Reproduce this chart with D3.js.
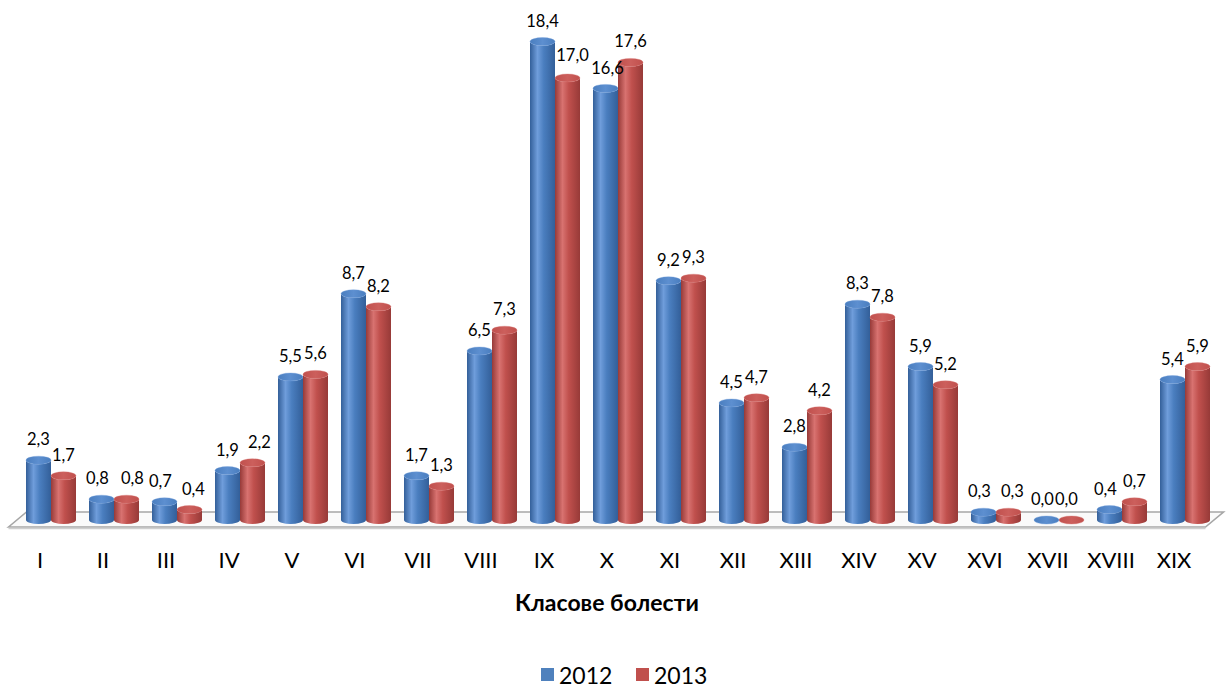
<!DOCTYPE html>
<html>
<head>
<meta charset="utf-8">
<script src="https://cdn.jsdelivr.net/npm/d3@7"></script>
<style>
  html, body { margin: 0; padding: 0; background: #fff; }
  svg { display: block; font-family: Lato, "Open Sans", "Liberation Sans", sans-serif; }
</style>
</head>
<body>
<svg id="chart" width="1227" height="689"></svg>
<script>
// Disease classes and the share for each year
const categories = ["I","II","III","IV","V","VI","VII","VIII","IX","X","XI","XII","XIII","XIV","XV","XVI","XVII","XVIII","XIX"];
const seriesNames = ["2012", "2013"];
const values2012 = [2.3, 0.8, 0.7, 1.9, 5.5, 8.7, 1.7, 6.5, 18.4, 16.6, 9.2, 4.5, 2.8, 8.3, 5.9, 0.3, 0.0, 0.4, 5.4];
const values2013 = [1.7, 0.8, 0.4, 2.2, 5.6, 8.2, 1.3, 7.3, 17.0, 17.6, 9.3, 4.7, 4.2, 7.8, 5.2, 0.3, 0.0, 0.7, 5.9];
const axisTitle = "Класове болести";

const palette = {
  "2012": { base: "#4a7ebf", light: "#6f9ddb", dark: "#335f99", top: "#5d8fd0", swatch: "#4f81bd" },
  "2013": { base: "#c0504d", light: "#d87270", dark: "#973a38", top: "#cc5f5c", swatch: "#c0504d" }
};

// Nudges (dx, dy) keeping neighbouring value labels apart
const labelNudge = {
  "II-2012": [-4, 0], "II-2013": [6, 0], "III-2012": [-4, 0], "III-2013": [4, 0], "IV-2013": [7, 0],
  "IX-2013": [5, -2], "X-2012": [2, 1], "XVI-2012": [-4, 0], "XVI-2013": [4, 0],
  "XVII-2012": [-4, 0], "XVII-2013": [-5, 0], "XVIII-2012": [-4, 0]
};

const svg = d3.select("#chart");
const defs = svg.append("defs");

// Horizontal shading for the cylinder walls
seriesNames.forEach(s => {
  const c = palette[s];
  const g = defs.append("linearGradient").attr("id", "side" + s)
    .attr("x1", "0%").attr("x2", "100%").attr("y1", "0%").attr("y2", "0%");
  g.append("stop").attr("offset", "0%").attr("stop-color", c.dark);
  g.append("stop").attr("offset", "30%").attr("stop-color", c.light);
  g.append("stop").attr("offset", "55%").attr("stop-color", c.base);
  g.append("stop").attr("offset", "100%").attr("stop-color", c.dark);
  const t = defs.append("linearGradient").attr("id", "top" + s)
    .attr("x1", "0%").attr("x2", "100%").attr("y1", "0%").attr("y2", "0%");
  t.append("stop").attr("offset", "0%").attr("stop-color", c.base);
  t.append("stop").attr("offset", "50%").attr("stop-color", c.top);
  t.append("stop").attr("offset", "100%").attr("stop-color", c.base);
});

// Scales: category slots along the front edge of the floor, values upward
const x = d3.scaleBand().domain(categories).range([8.5, 1205.5]).paddingInner(0).paddingOuter(0);
const depthDx = 18, depthDy = -15;          // floor depth offset (front -> back)
const barsDx = 11;                           // bars stand mid-depth on the floor
const xs = d3.scaleBand().domain(seriesNames).range([-25, 25]);
const y = d3.scaleLinear().domain([0, 20]).range([520, 0]);

// Floor (3D platform)
const fy = 527;
const floor = svg.append("g");
floor.append("path")
  .attr("d", `M${x.range()[0]},${fy} L${x.range()[0] + depthDx},${fy + depthDy} L${x.range()[1] + depthDx},${fy + depthDy} L${x.range()[1]},${fy} Z`)
  .attr("fill", "#fafafa").attr("stroke", "#a6a6a6").attr("stroke-width", 1.6);
floor.append("line")
  .attr("x1", x.range()[0]).attr("x2", x.range()[1]).attr("y1", fy + 1.5).attr("y2", fy + 1.5)
  .attr("stroke", "#cfcfcf").attr("stroke-width", 1.5);

// Rows for the cylinders
const rows = [];
categories.forEach((c, i) => {
  rows.push({ cat: c, s: "2012", v: values2012[i] });
  rows.push({ cat: c, s: "2013", v: values2013[i] });
});

const ry = 4;
const bars = svg.append("g");
rows.forEach(d => {
  const cx = x(d.cat) + x.bandwidth() / 2 + barsDx + xs(d.s) + xs.bandwidth() / 2;
  const rx = xs.bandwidth() / 2;
  const yb = y(0), yt = y(d.v);
  const g = bars.append("g");
  // wall: down the left side, bottom half ellipse, up the right side, back along the top arc
  g.append("path")
    .attr("d", `M${cx - rx},${yt} L${cx - rx},${yb} A${rx},${ry} 0 0 0 ${cx + rx},${yb} L${cx + rx},${yt} A${rx},${ry} 0 0 1 ${cx - rx},${yt} Z`)
    .attr("fill", `url(#side${d.s})`);
  g.append("ellipse")
    .attr("cx", cx).attr("cy", yt).attr("rx", rx).attr("ry", ry)
    .attr("fill", `url(#top${d.s})`)
    .attr("stroke", palette[d.s].light).attr("stroke-width", 0.6).attr("stroke-opacity", 0.6);
  d.cx = cx; d.yt = yt;
});

// Value labels
const nudge = d => labelNudge[d.cat + "-" + d.s] || [0, 0];
svg.append("g").selectAll("text").data(rows).join("text")
  .attr("x", d => d.cx + nudge(d)[0])
  .attr("y", d => d.yt - 15 + nudge(d)[1])
  .attr("text-anchor", "middle")
  .attr("font-size", 16.5)
  .attr("fill", "#000")
  .text(d => d3.format(".1f")(d.v).replace(".", ","));

// Category axis labels
svg.append("g").selectAll("text").data(categories).join("text")
  .attr("x", d => x(d) + x.bandwidth() / 2)
  .attr("y", 568)
  .attr("text-anchor", "middle")
  .attr("font-size", 22)
  .attr("fill", "#000")
  .text(d => d);

// Axis title
svg.append("text")
  .attr("x", 607).attr("y", 611)
  .attr("text-anchor", "middle")
  .attr("font-size", 23).attr("font-weight", "bold")
  .text(axisTitle);

// Legend
const legend = svg.append("g");
const legendX = [541, 636];
seriesNames.forEach((s, i) => {
  legend.append("rect")
    .attr("x", legendX[i]).attr("y", 668).attr("width", 13).attr("height", 13)
    .attr("fill", palette[s].swatch);
  legend.append("text")
    .attr("x", legendX[i] + 18).attr("y", 684)
    .attr("font-size", 23)
    .text(s);
});
</script>
</body>
</html>
